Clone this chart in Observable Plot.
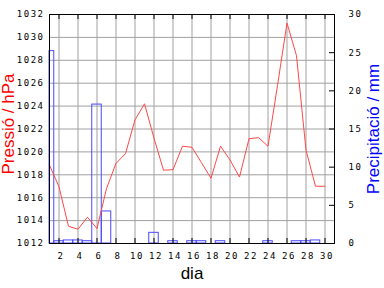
<!DOCTYPE html>
<html>
<head>
<meta charset="utf-8">
<script src="https://cdn.jsdelivr.net/npm/d3@7"></script>
<script src="https://cdn.jsdelivr.net/npm/@observablehq/plot@0.6"></script>
<style>
  html, body { margin: 0; padding: 0; background: #fff; }
  #chart svg { display: block; }
  #chart [aria-label$="tick label"] text { letter-spacing: 1.5px; }
</style>
</head>
<body>
<div id="chart"></div>
<script>
// Days of the month
const days = [1,2,3,4,5,6,7,8,9,10,11,12,13,14,15,16,17,18,19,20,21,22,23,24,25,26,27,28,29,30];
// Pressure (hPa), daily
const pressure = [1018.85,1016.95,1013.5,1013.25,1014.3,1013.3,1016.8,1019.0,1019.85,1022.8,
                  1024.2,1021.2,1018.4,1018.45,1020.5,1020.4,1019.05,1017.7,1020.5,1019.3,
                  1017.8,1021.15,1021.25,1020.5,1025.8,1031.25,1028.4,1020.15,1017.0,1017.0];
// Precipitation (mm), daily
const precip = [25.2,0.3,0.4,0.4,0.3,18.2,4.2,0,0,0,
                0,1.4,0,0.3,0,0.3,0.3,0,0.3,0,
                0,0,0,0.3,0,0,0.3,0.3,0.4,0];
// Tick values
const xTicks = [2,4,6,8,10,12,14,16,18,20,22,24,26,28,30];
const pTicks = [1012,1014,1016,1018,1020,1022,1024,1026,1028,1030,1032];
const mmTicks = [0,5,10,15,20,25,30];
const xDomain = [1, 31];
const pDomain = [1012, 1032];
const mmDomain = [0, 30];

// map precipitation onto the pressure axis (right axis shares the frame)
const toP = mm => pDomain[0] + (mm - mmDomain[0]) * (pDomain[1] - pDomain[0]) / (mmDomain[1] - mmDomain[0]);
const toMM = p => mmDomain[0] + (p - pDomain[0]) * (mmDomain[1] - mmDomain[0]) / (pDomain[1] - pDomain[0]);

const pressData = days.map((d, i) => ({day: d, p: pressure[i]}));
const barData = days.map((d, i) => ({x1: Math.max(d - 0.5, xDomain[0]), x2: Math.min(d + 0.5, xDomain[1]), mm: precip[i]}))
                    .filter(d => d.mm > 0);

const W = 384, H = 288, mL = 49, mR = 50, mT = 14, mB = 45;
const frameW = W - mL - mR, frameH = H - mT - mB;
const titleFont = "'Liberation Sans', Arial, sans-serif";

const chart = Plot.plot({
  width: W, height: H,
  marginLeft: mL, marginRight: mR, marginTop: mT, marginBottom: mB,
  x: {domain: xDomain},
  y: {domain: pDomain},
  style: {background: "white", color: "black", fontFamily: "'DejaVu Sans Mono', monospace", fontSize: "9px"},
  marks: [
    Plot.gridX(xTicks, {stroke: "#a0a0a0", strokeOpacity: 1}),
    Plot.gridY(pTicks, {stroke: "#a0a0a0", strokeOpacity: 1}),
    Plot.rect(barData, {x1: "x1", x2: "x2", y1: pDomain[0], y2: d => toP(d.mm), fill: "none", stroke: "#4848ff"}),
    Plot.line(pressData, {x: "day", y: "p", stroke: "#ff4848", strokeWidth: 1}),
    Plot.frame({stroke: "black"}),
    Plot.tickX(xTicks, {x: d => d, stroke: "black", insetTop: frameH - 5}),
    Plot.tickX(xTicks, {x: d => d, stroke: "black", insetBottom: frameH - 5}),
    Plot.tickY(mmTicks, {y: d => toP(d), stroke: "black", insetLeft: frameW - 5}),
    Plot.axisX(xTicks, {anchor: "bottom", tickSize: 0, tickPadding: 9, dx: 2, label: null, fontSize: 9}),
    Plot.axisY(pTicks, {anchor: "left", tickSize: 0, tickPadding: 5, label: null, fontSize: 9, tickFormat: d => String(d)}),
    Plot.axisY(mmTicks.map(toP), {anchor: "right", tickSize: 0, tickPadding: 14, label: null, fontSize: 9,
      tickFormat: d => String(Math.round(toMM(d)))}),
    Plot.text(["Pressió / hPa"], {frameAnchor: "left", textAnchor: "middle", lineAnchor: "middle", rotate: -90,
      dx: -41, dy: -5, fill: "#ff0000", fontSize: 17, fontFamily: titleFont}),
    Plot.text(["Precipitació / mm"], {frameAnchor: "right", textAnchor: "middle", lineAnchor: "middle", rotate: -90,
      dx: 39, dy: 0, fill: "#0000ff", fontSize: 17, fontFamily: titleFont}),
    Plot.text(["dia"], {frameAnchor: "bottom", textAnchor: "middle", lineAnchor: "middle", dy: 30, fill: "black",
      fontSize: 17, fontFamily: titleFont})
  ]
});
document.getElementById("chart").appendChild(chart);
</script>
</body>
</html>
